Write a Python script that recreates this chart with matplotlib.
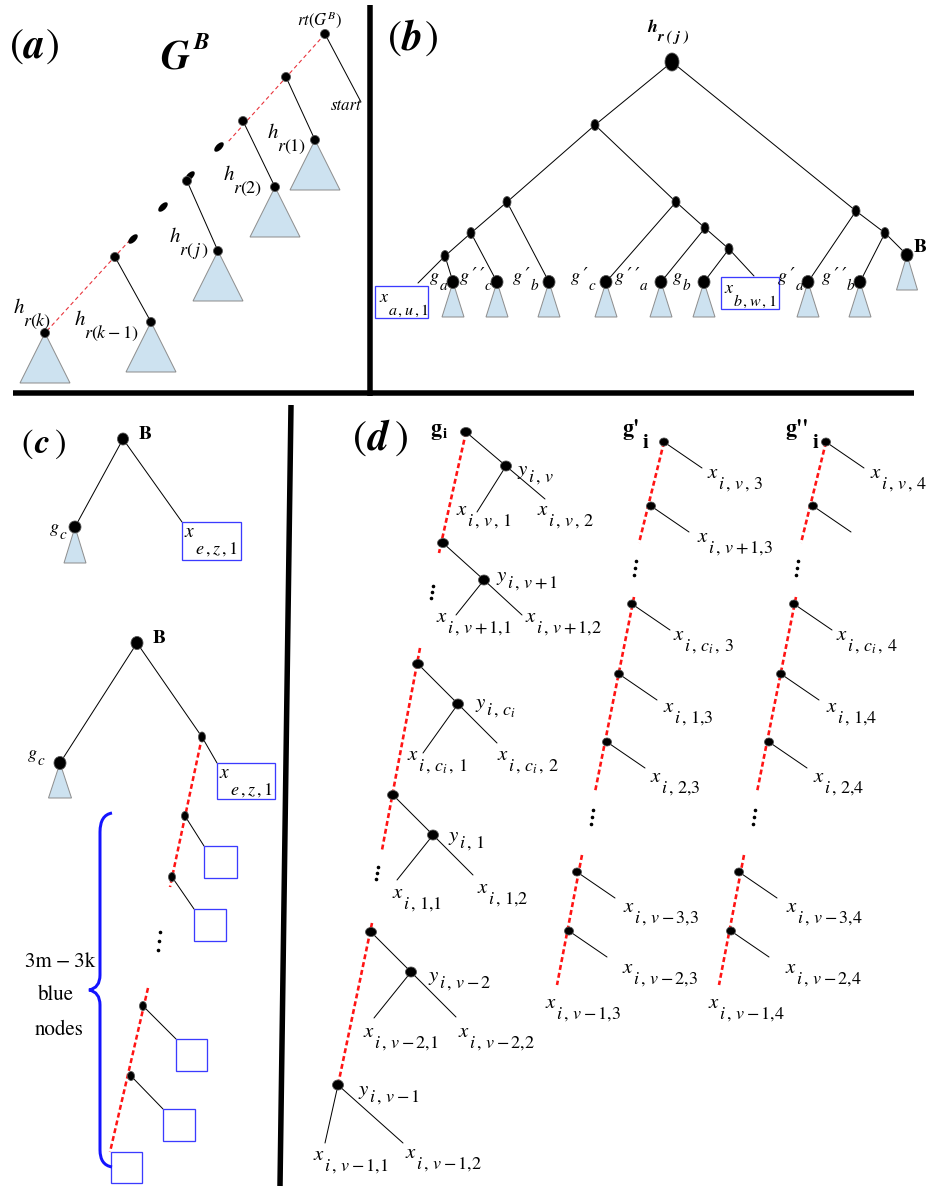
import matplotlib
matplotlib.use("Agg")
import matplotlib.pyplot as plt
from matplotlib.patches import Ellipse, Polygon, Rectangle, PathPatch
from matplotlib.path import Path

plt.rcParams["mathtext.fontset"] = "stix"
plt.rcParams["font.family"] = ["STIXGeneral", "DejaVu Serif"]
plt.rcParams["lines.scale_dashes"] = False

W, H = 929, 1188
PT = 72.0 / 100.0  # points per pixel at dpi 100

# ---------------------------------------------------------------- panel (a)
A_TOP_CHAIN = [(325, 34), (227, 143)]
A_BOT_CHAIN = [(130, 240), (45, 333)]
A_SPINE = [(325, 34), (286, 77), (243, 121), (187, 181), (115, 257)]
A_GAP_DOTS = [(219, 147), (190, 176), (163, 207), (133, 239)]
A_START_END = (361, 102)
A_BRANCHES = [((286, 77), (315, 140)), ((243, 121), (275, 187)),
              ((187, 181), (218, 251)), ((115, 257), (151, 322))]
A_HK = (45, 333)
A_TREE_APEX = [(315, 140), (275, 187), (218, 251), (151, 322), (45, 333)]
A_H_LABELS = [(267, 138, r"$r(1)$"), (223, 180, r"$r(2)$"),
              (169, 242, r"$r(\,j\,)$"), (74, 325, r"$r(k-1)$"),
              (13, 313, r"$r(k)$")]

# ---------------------------------------------------------------- panel (b)
B_INNER = {"root": (672, 62), "A": (595, 125), "R": (856, 211),
           "L": (507, 202), "M": (676, 202), "LL": (471, 233),
           "LLL": (445, 256), "MR": (705, 228), "MRR": (729, 249),
           "RR": (885, 233)}
B_LEAVES = {"ga": (453, 282), "g2c": (497, 282), "g1b": (549, 282),
            "g1c": (606, 282), "g2a": (661, 282), "gb": (704, 282),
            "g1a": (808, 282), "g2b": (860, 282)}
B_BNODE = (907, 255)
B_BOX_ENDS = {"xa": (418, 283), "xb": (754, 276)}
B_EDGES = [("root", "A"), ("root", "R"), ("A", "L"), ("A", "M"),
           ("L", "LL"), ("L", "g1b"), ("LL", "LLL"), ("LL", "g2c"),
           ("LLL", "xa"), ("LLL", "ga"), ("M", "g1c"), ("M", "MR"),
           ("MR", "g2a"), ("MR", "MRR"), ("MRR", "gb"), ("MRR", "xb"),
           ("R", "g1a"), ("R", "RR"), ("RR", "g2b"), ("RR", "B")]
# leaf name: (text x, number of primes, sub letter)
B_LEAF_LABELS = {"ga": (430, 0, "a"), "g2c": (460, 2, "c"),
                 "g1b": (513, 1, "b"), "g1c": (571, 1, "c"),
                 "g2a": (615, 2, "a"), "gb": (673, 0, "b"),
                 "g1a": (778, 1, "a"), "g2b": (822, 2, "b")}
B_XBOXES = [(375, 286, 53, 32, 379, 302, r"$a\,,u\,,1$"),
            (721, 277, 58, 32, 724, 293, r"$b\,,w\,,1$")]

# ---------------------------------------------------------------- panel (c)
C_UP_B, C_UP_G = (123, 439), (75, 527)
C_UP_BOX = (182, 522, 59, 38)
C_LO_B, C_LO_G, C_LO_HUB = (137, 643), (60, 763), (202, 737)
C_LO_BOX = (217, 763, 58, 36)
C_CHAINS = [((202, 737), (170, 887)), ((148, 988), (110, 1152))]
C_CHAIN_NODES = [(185, 816), (172, 877), (143, 1006), (131, 1076)]
C_CHAIN_BOXES = [(204, 846, 33, 32), (194, 909, 32, 32),
                 (176, 1039, 31, 32), (163, 1109, 32, 32)]
C_LAST_BOX = (111, 1152, 31, 31)
C_VDOTS = (159, 941)
C_BRACE_TEXT = [(60, 967, "3m\u2009\u2212\u20093k"), (56, 1000, "blue"),
                (59, 1035, "nodes")]

# ---------------------------------------------------------------- panel (d)
# g_i column: (spine node, y node, left leaf end, right leaf end)
D_GI_GROUPS = [((466, 432), (506, 466), (477, 512), (545, 499)),
               ((443, 543), (484, 580), (456, 615), (522, 615)),
               ((418, 664), (458, 704), (423, 753), (497, 743)),
               ((393, 795), (433, 835), (397, 880), (473, 875)),
               ((371, 932), (411, 972), (374, 1018), (456, 1017))]
D_GI_LAST = ((338, 1085), (325, 1143), (403, 1143))
D_GI_CHAINS = [((466, 432), (439, 553)), ((420, 648), (382, 850)),
               ((372, 923), (338, 1085))]
D_GI_VDOTS = [(432, 592), (377, 873)]
D_GI_Y_LABELS = [(517, 482, r"$i\,,\,v$"), (496, 588, r"$i\,,\,v+1$"),
                 (475, 715, r"$i\,,\,c_i$"), (448, 848, r"$i\,,\,1$"),
                 (428, 988, r"$i\,,\,v-2$"), (358, 1102, r"$i\,,\,v-1$")]
D_GI_X_LABELS = [(456, 515, r"$i\,,\,v\,,\,1$"), (537, 515, r"$i\,,\,v\,,\,2$"),
                 (436, 622, r"$i\,,\,v+1{,}1$"), (525, 622, r"$i\,,\,v+1{,}2$"),
                 (407, 760, r"$i\,,\,c_i\,,\,1$"), (497, 760, r"$i\,,\,c_i\,,\,2$"),
                 (392, 898, r"$i\,,\,1{,}1$"), (477, 893, r"$i\,,\,1{,}2$"),
                 (363, 1037, r"$i\,,\,v-2{,}1$"), (458, 1037, r"$i\,,\,v-2{,}2$"),
                 (313, 1160, r"$i\,,\,v-1{,}1$"), (405, 1158, r"$i\,,\,v-1{,}2$")]

# g'_i column (g''_i is the same shape shifted right)
D_COL_NODES = [(664, 442), (651, 506), (632, 604), (619, 674),
               (607, 742), (577, 872), (569, 931)]
D_COL_CHAINS = [((664, 442), (639, 543)), ((634, 597), (595, 792)),
                ((582, 855), (557, 985))]
D_COL_VDOTS = [(635, 568), (592, 817)]
D_COL_LEAF_DX, D_COL_LEAF_DY = 38, 26
D_COL_LABELS = [(707, 478, "v\\,,\\,"), (697, 542, "v+1{,}"),
                (673, 640, "c_i\\,,\\,"), (663, 712, "1{,}"),
                (650, 782, "2{,}"), (623, 912, "v-3{,}"),
                (622, 973, "v-2{,}"), (545, 1008, "v-1{,}")]
D_COL_SHIFT = 162
D_COLUMNS = [(0, "3", "g1"), (D_COL_SHIFT, "4", "g2")]

# ---------------------------------------------------------------- drawing
BLACK = "black"
RED = "#ff1414"
TRI_FACE = "#cde2f0"
TRI_EDGE = "#8e8e8e"
BOX_BLUE = "#3b3bff"

fig = plt.figure(figsize=(W / 100, H / 100), dpi=100)
ax = fig.add_axes([0, 0, 1, 1])
ax.set_xlim(0, W)
ax.set_ylim(H, 0)
ax.axis("off")
renderer = fig.canvas.get_renderer()


def edge(p, q, lw=1.0, color=BLACK, z=2):
    ax.plot([p[0], q[0]], [p[1], q[1]], color=color, lw=lw * PT, zorder=z,
            solid_capstyle="round")


def red_chain(p, q, lw=2.6, on=5, off=3, color=RED):
    ax.plot([p[0], q[0]], [p[1], q[1]], color=color, lw=lw * PT,
            linestyle=(0, (on * PT, off * PT)), dash_capstyle="butt", zorder=2)


def node(p, w=9, h=9):
    ax.add_patch(Ellipse(p, w, h, fc=BLACK, ec="#555555", lw=0.8 * PT, zorder=5))


def subtree(apex, half, height):
    x, y = apex
    ax.add_patch(Polygon([(x, y), (x - half, y + height), (x + half, y + height)],
                         closed=True, fc=TRI_FACE, ec=TRI_EDGE, lw=1.0 * PT, zorder=3))


def box(x0, y0, w, h, lw=1.3):
    ax.add_patch(Rectangle((x0, y0), w, h, fill=False, ec=BOX_BLUE, lw=lw * PT, zorder=4))


def txt(x, y, s, size, **kw):
    ha = kw.pop("ha", "left")
    return ax.text(x, y, s, fontsize=size, ha=ha, va="baseline", zorder=6, **kw)


def sublabel(x, y, base, sub, size=13, dx=11, dy=11, sub_size=None, **kw):
    txt(x, y, base, size, **kw)
    txt(x + dx, y + dy, sub, sub_size or size, **kw)


def follow_label(x, y, base, sub, size, sub_size, dy, **kw):
    """Base text, with the subscript placed right after its drawn extent."""
    t = txt(x, y, base, size, **kw)
    x1 = t.get_window_extent(renderer).x1
    txt(x1 + 0.5, y + dy, sub, sub_size, **kw)


def vdots(x, y, gap=8):
    ax.plot([x + 1, x, x - 1], [y - gap, y, y + gap], ls="none", marker="o",
            ms=2.2 * PT, color=BLACK, zorder=5)


def tag(x, y, letter, size, offs):
    txt(x, y, "(", size)
    txt(x + offs[0], y, letter, size, weight="bold", style="italic")
    txt(x + offs[1], y, ")", size)


def thick(p, q, lw=5.5):
    ax.plot([p[0], q[0]], [p[1], q[1]], color=BLACK, lw=lw * PT,
            solid_capstyle="butt", zorder=7)


# frame dividers
thick((370, 5), (370, 396))
thick((13, 393), (914, 393))
thick((291, 405), (280, 1186))

# ---- (a)
tag(10, 58, "a", 30, (14, 36))
txt(160, 70, "G", 29, weight="bold", style="italic")
txt(194, 49, "B", 17, weight="bold", style="italic")
txt(320, 25, r"$rt(G^B)$", 12, ha="center")
txt(331, 110, "start", 12, style="italic")

red_chain(*A_TOP_CHAIN, lw=1.1, on=4, off=3, color="#e8323a")
red_chain(*A_BOT_CHAIN, lw=1.1, on=4, off=3, color="#e8323a")
for p in A_GAP_DOTS:
    ax.add_patch(Ellipse(p, 12, 6, angle=-45, fc=BLACK, ec="none", zorder=5))
edge(A_SPINE[0], A_START_END)
for parent, child in A_BRANCHES:
    edge(parent, child)
for apex in A_TREE_APEX:
    subtree(apex, 25, 50)
for p in A_SPINE + [b[1] for b in A_BRANCHES] + [A_HK]:
    node(p, 9, 9)
for x, y, s in A_H_LABELS:
    sublabel(x, y, r"$h$", s, size=15, dx=10, dy=13, sub_size=13)

# ---- (b)
tag(388, 50, "b", 30, (14, 37))
b_pts = dict(B_INNER)
b_pts.update(B_LEAVES)
b_pts.update(B_BOX_ENDS)
b_pts["B"] = B_BNODE
for a, b in B_EDGES:
    edge(b_pts[a], b_pts[b])
for p in B_LEAVES.values():
    subtree(p, 11, 35)
subtree(B_BNODE, 10.5, 35)
node(B_INNER["root"], 14, 18)
for k, p in B_INNER.items():
    if k != "root":
        node(p, 8, 11)
for p in B_LEAVES.values():
    node(p, 12, 13)
node(B_BNODE, 12, 13)
txt(914, 252, "B", 14, weight="bold")
txt(647, 32, "h", 13, weight="bold", style="italic")
txt(657, 41, "r ( j )", 11, weight="bold", style="italic")
for k, (x, primes, sub) in B_LEAF_LABELS.items():
    base = "g" + "\u2009\u2032" * primes
    follow_label(x, 281, base, sub, 13, 11, 9, style="italic")
for x0, y0, w, h, lx, ly, sub in B_XBOXES:
    box(x0, y0, w, h)
    sublabel(lx, ly, r"$x$", sub, size=13, dx=9, dy=13, sub_size=11.5)

# ---- (c)
tag(21, 453, "c", 25, (13, 33))
edge(C_UP_B, C_UP_G)
edge(C_UP_B, C_UP_BOX[:2])
subtree(C_UP_G, 11, 36)
node(C_UP_B, 11, 12)
node(C_UP_G, 12, 12)
box(*C_UP_BOX)
txt(139, 439, "B", 14, weight="bold")
follow_label(50, 532, "g", "c", 13, 11, 7, style="italic")
sublabel(184, 537, r"$x$", r"$e\,,z\,,1$", size=14, dx=11, dy=17, sub_size=13)

edge(C_LO_B, C_LO_G)
edge(C_LO_B, C_LO_HUB)
edge(C_LO_HUB, C_LO_BOX[:2])
subtree(C_LO_G, 11.5, 35)
node(C_LO_B, 12, 13)
node(C_LO_G, 12, 13)
node(C_LO_HUB, 7, 10)
box(*C_LO_BOX)
txt(153, 643, "B", 14, weight="bold")
follow_label(28, 758, "g", "c", 13, 11, 7, style="italic")
sublabel(219, 778, r"$x$", r"$e\,,z\,,1$", size=14, dx=11, dy=17, sub_size=13)

for p, q in C_CHAINS:
    red_chain(p, q, lw=2.5, on=5, off=3)
for p, (x0, y0, w, h) in zip(C_CHAIN_NODES, C_CHAIN_BOXES):
    edge(p, (x0, y0))
    node(p, 7, 9)
    box(x0, y0, w, h)
box(*C_LAST_BOX)
vdots(*C_VDOTS, gap=9)

brace = Path([(112, 813), (100, 815), (100, 832), (100, 975), (100, 988), (89, 990),
              (100, 992), (100, 1005), (100, 1150), (100, 1165), (112, 1167)],
             [Path.MOVETO, Path.CURVE3, Path.CURVE3, Path.LINETO, Path.CURVE3,
              Path.CURVE3, Path.CURVE3, Path.CURVE3, Path.LINETO, Path.CURVE3,
              Path.CURVE3])
ax.add_patch(PathPatch(brace, fill=False, ec="#1414ff", lw=3.0 * PT, zorder=4))
for x, y, s in C_BRACE_TEXT:
    txt(x, y, s, 15, ha="center")

# ---- (d)
tag(353, 450, "d", 30, (15, 42))
txt(430, 435, "g", 16, weight="bold")
txt(443, 438, "i", 11, weight="bold")
for p, q in D_GI_CHAINS:
    red_chain(p, q)
for spine, ynode, left, right in D_GI_GROUPS:
    edge(spine, ynode)
    edge(ynode, left)
    edge(ynode, right)
    node(spine, 11, 9)
    node(ynode, 11, 10)
last, left, right = D_GI_LAST
edge(last, left)
edge(last, right)
node(last, 11, 10)
for p in D_GI_VDOTS:
    vdots(*p, gap=6)
for x, ysub, sub in D_GI_Y_LABELS:
    sublabel(x, ysub - 7, r"$y$", sub, size=15, dx=11, dy=7, sub_size=13)
for x, y, sub in D_GI_X_LABELS:
    sublabel(x, y, r"$x$", sub, size=15, dx=11, dy=11, sub_size=13)

for shift, last_digit, name in D_COLUMNS:
    for p, q in D_COL_CHAINS:
        red_chain((p[0] + shift, p[1]), (q[0] + shift, q[1]))
    for i, (x, y) in enumerate(D_COL_NODES):
        edge((x + shift, y), (x + shift + D_COL_LEAF_DX, y + D_COL_LEAF_DY))
        node((x + shift, y), 9, 8)
    for p in D_COL_VDOTS:
        vdots(p[0] + shift, p[1], gap=7)
    for i, (x, y, mid) in enumerate(D_COL_LABELS):
        if name == "g2" and i == 1:
            continue
        sub = "$i\\,,\\," + mid + last_digit + "$"
        sublabel(x + shift + (1 if name == "g2" else 0), y, r"$x$", sub,
                 size=15, dx=11, dy=11, sub_size=13)

txt(622, 435, "g'", 16, weight="bold")
txt(643, 448, "i", 15, weight="bold")
txt(785, 435, "g''", 16, weight="bold")
txt(813, 448, "i", 15, weight="bold")

fig.savefig("out.png", dpi=100)
